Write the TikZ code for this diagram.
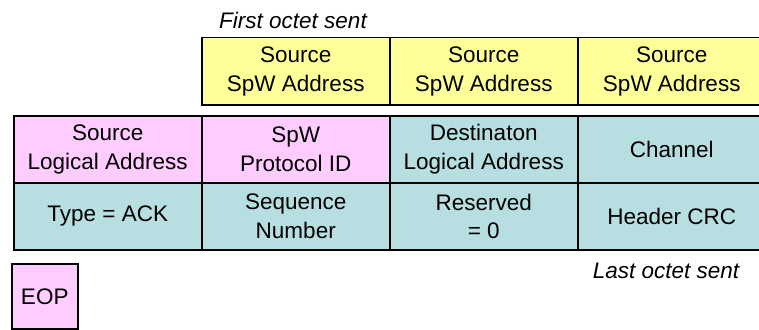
\documentclass[tikz,border=0pt]{standalone}
\usepackage{fontspec}
\setmainfont{Liberation Sans}
\definecolor{cyel}{RGB}{255,255,153}
\definecolor{cpink}{RGB}{255,204,255}
\definecolor{cteal}{RGB}{183,222,224}
\begin{document}
\begin{tikzpicture}[x=1pt,y=-1pt,
  cell/.style={draw=black,line width=1.5pt,anchor=north west,minimum width=188pt,minimum height=67pt,inner sep=0pt,align=center,font=\fontsize{22.5}{28.5}\selectfont},
  ycell/.style={cell,fill=cyel},
  pcell/.style={cell,fill=cpink},
  tcell/.style={cell,fill=cteal},
  note/.style={font=\fontsize{22.5}{28}\selectfont\itshape,inner sep=0pt}]
\clip (0,0) rectangle (759,329);
\fill[white] (0,0) rectangle (759,329);
% row 1
\node[ycell] (s1) at (201,37) {Source\\SpW Address};
\node[ycell] (s2) at (389,37) {Source\\SpW Address};
\node[ycell] (s3) at (577,37) {Source\\SpW Address};
% row 2
\node[pcell] (sla) at (13,115) {Source\\Logical Address};
\node[pcell] (pid) at (201,115) {SpW\\Protocol ID};
\node[tcell] (dla) at (389,115) {Destinaton\\Logical Address};
\node[tcell] (ch) at (577,115) {Channel};
% row 3
\node[tcell] (type) at (13,182) {Type = ACK};
\node[tcell] (seq) at (201,182) {Sequence\\Number};
\node[tcell] (res) at (389,182) {Reserved\\= 0};
\node[tcell] (crc) at (577,182) {Header CRC};
% EOP
\node[pcell,minimum width=66pt,minimum height=65pt] (eop) at (11,263) {EOP};
% notes
\node[note] (first) at (293,20) {First octet sent};
\node[note] (last) at (666,271) {Last octet sent};
\end{tikzpicture}
\end{document}
